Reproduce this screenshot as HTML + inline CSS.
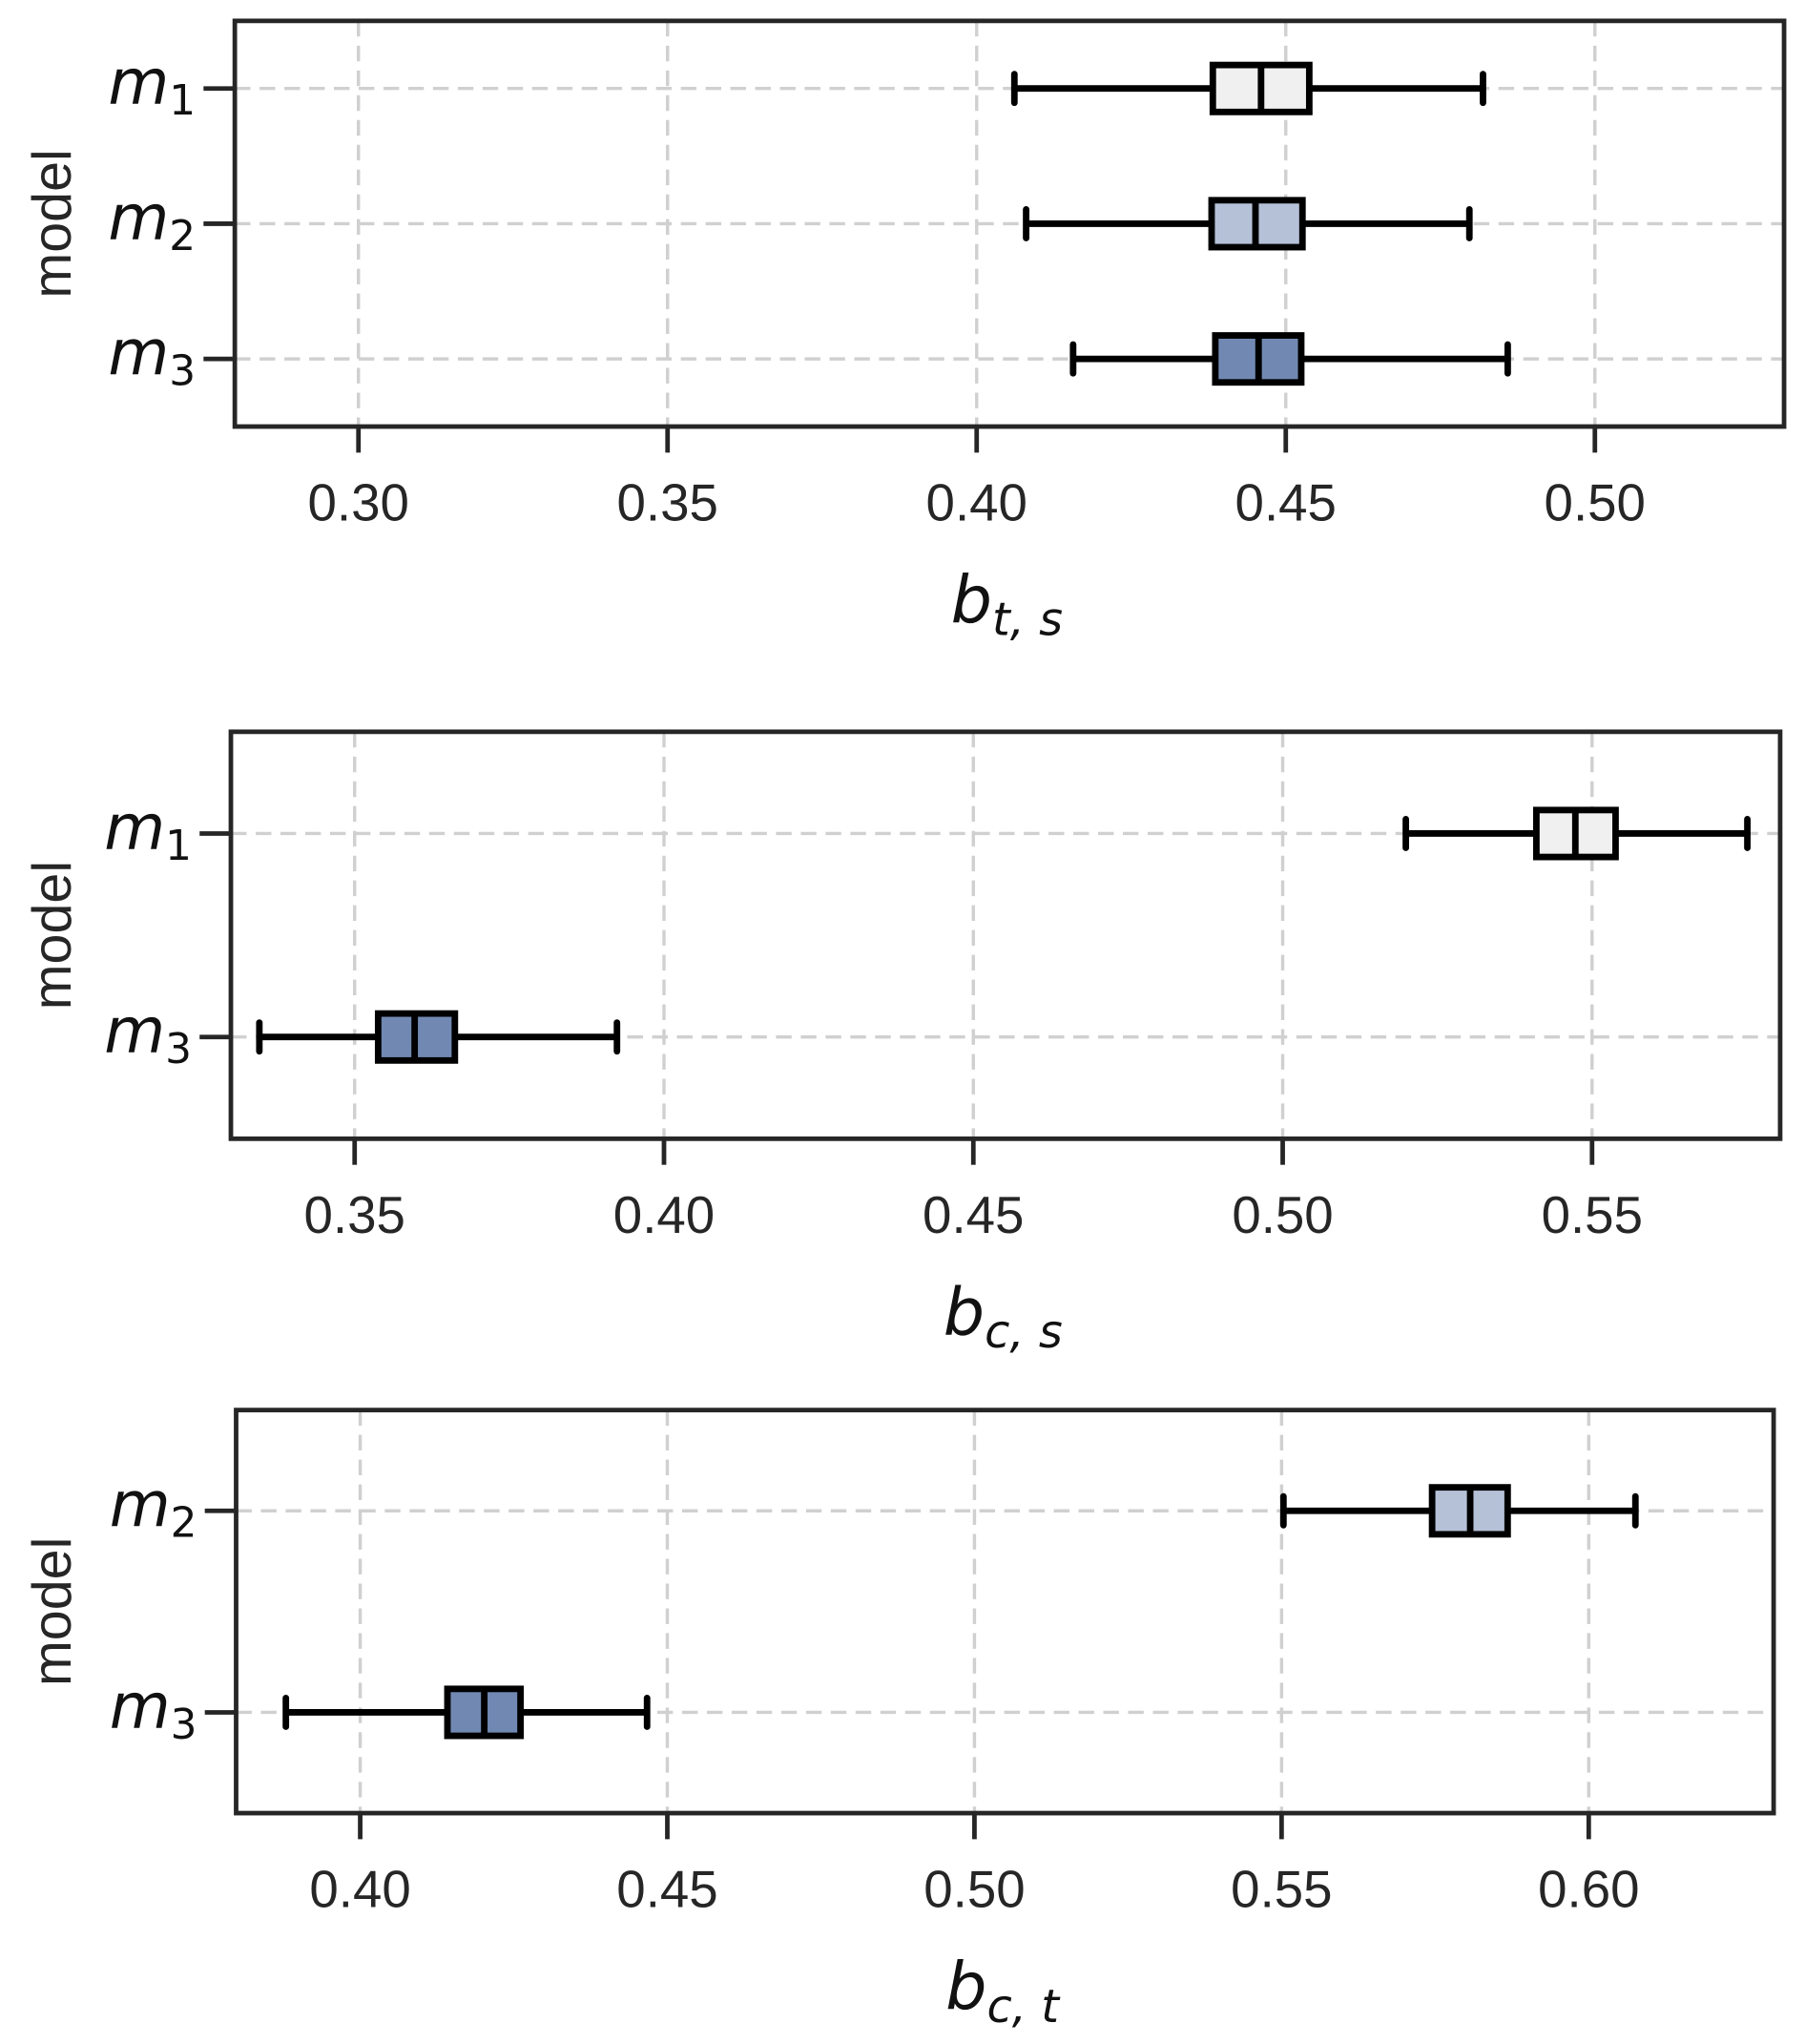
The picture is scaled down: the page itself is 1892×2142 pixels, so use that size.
<!DOCTYPE html>
<html><head><meta charset="utf-8"><style>
html,body{margin:0;padding:0;background:#fff;}
svg{display:block;}
text{font-family:"Liberation Sans","DejaVu Sans",sans-serif;fill:#262626;}
.it{font-family:"DejaVu Sans","Liberation Sans",sans-serif;font-style:italic;fill:#111;}
</style></head><body>
<svg id="fig" width="1892" height="2142" viewBox="0 0 1384 1567" xmlns="http://www.w3.org/2000/svg"></svg>
<script>
// Panel 1: b_{t,s}
const p1Cats = ["1","2","3"];
const p1Lo = [0.4061, 0.4080, 0.4156];
const p1Q1 = [0.4382, 0.4380, 0.4386];
const p1Med = [0.4460, 0.4451, 0.4456];
const p1Q3 = [0.4538, 0.4527, 0.4525];
const p1Hi = [0.4819, 0.4797, 0.4859];
const p1Ticks = [0.30, 0.35, 0.40, 0.45, 0.50];
const p1Fill = ["#f0f0f0", "#b5c1d7", "#7189b2"];
// Panel 2: b_{c,s}
const p2Cats = ["1","3"];
const p2Lo = [0.5199, 0.3346];
const p2Q1 = [0.5410, 0.3538];
const p2Med = [0.5473, 0.3597];
const p2Q3 = [0.5538, 0.3662];
const p2Hi = [0.5751, 0.3924];
const p2Ticks = [0.35, 0.40, 0.45, 0.50, 0.55];
const p2Fill = ["#f0f0f0", "#7189b2"];
// Panel 3: b_{c,t}
const p3Cats = ["2","3"];
const p3Lo = [0.5503, 0.3879];
const p3Q1 = [0.5745, 0.4142];
const p3Med = [0.5807, 0.4202];
const p3Q3 = [0.5868, 0.4261];
const p3Hi = [0.6076, 0.4467];
const p3Ticks = [0.40, 0.45, 0.50, 0.55, 0.60];
const p3Fill = ["#b5c1d7", "#7189b2"];

const NS="http://www.w3.org/2000/svg";
const svg=document.getElementById('fig');
function mk(tag,attrs,parent){const e=document.createElementNS(NS,tag);for(const k in attrs)e.setAttribute(k,attrs[k]);(parent||svg).appendChild(e);return e;}

function panel(id,box,xdom,cats,lo,q1,med,q3,hi,ticks,fills,sub){
  const g=mk('g',{});
  
  
  const [L,T,R,B]=box;
  const xs=v=>L+(v-xdom[0])/(xdom[1]-xdom[0])*(R-L);
  const n=cats.length;
  const ys=i=>T+(i+0.5)/n*(B-T);
  ticks.forEach(t=>{
    const l=mk('line',{x1:xs(t),x2:xs(t),y1:T,y2:B,stroke:'#d0d0d0','stroke-width':2.5,'stroke-dasharray':'12,7'},g);
    
    
  });
  cats.forEach((c,i)=>{
    const l=mk('line',{x1:L,x2:R,y1:ys(i),y2:ys(i),stroke:'#d0d0d0','stroke-width':2.5,'stroke-dasharray':'12,7'},g);
    
    
  });
  cats.forEach((c,i)=>{
    const y=ys(i), h=36;
    const bg=mk('g',{},g);
    
    
    mk('line',{x1:xs(lo[i]),x2:xs(q1[i]),y1:y,y2:y,stroke:'#000','stroke-width':5},bg);
    mk('line',{x1:xs(q3[i]),x2:xs(hi[i]),y1:y,y2:y,stroke:'#000','stroke-width':5},bg);
    mk('line',{x1:xs(lo[i]),x2:xs(lo[i]),y1:y-11,y2:y+11,stroke:'#000','stroke-width':5,'stroke-linecap':'round'},bg);
    mk('line',{x1:xs(hi[i]),x2:xs(hi[i]),y1:y-11,y2:y+11,stroke:'#000','stroke-width':5,'stroke-linecap':'round'},bg);
    mk('rect',{x:xs(q1[i]),y:y-h/2,width:xs(q3[i])-xs(q1[i]),height:h,fill:fills[i],stroke:'#000','stroke-width':5},bg);
    mk('line',{x1:xs(med[i]),x2:xs(med[i]),y1:y-h/2,y2:y+h/2,stroke:'#000','stroke-width':5},bg);
    mk('line',{x1:L-24,x2:L,y1:y,y2:y,stroke:'#262626','stroke-width':3.5},g);
    const t=mk('text',{x:L-30,y:y+12,'text-anchor':'end','font-size':48,class:'it'},g);
    
    
    t.innerHTML='m<tspan font-size="32" dy="8" font-style="normal">'+c+'</tspan>';
  });
  const f=mk('rect',{x:L,y:T,width:R-L,height:B-T,fill:'none',stroke:'#262626','stroke-width':3.5},g);
  
  
  ticks.forEach(t=>{
    mk('line',{x1:xs(t),x2:xs(t),y1:B,y2:B+20,stroke:'#262626','stroke-width':3.5},g);
    const tx=mk('text',{x:xs(t),y:B+72,'text-anchor':'middle','font-size':40},g);
    
    
    tx.textContent=t.toFixed(2);
  });
  const yt=mk('text',{x:0,y:0,'text-anchor':'middle','font-size':42,transform:`translate(54,${(T+B)/2}) rotate(-90)`},g);
  
  
  yt.textContent='model';
  const xt=mk('text',{x:(L+R)/2-2,y:B+150,'text-anchor':'middle','font-size':50,class:'it'},g);
  
  
  xt.innerHTML='b<tspan font-size="35" dy="10">'+sub+'</tspan>';
}
panel('bts',[180,16,1368,327],[0.28,0.5306],p1Cats,p1Lo,p1Q1,p1Med,p1Q3,p1Hi,p1Ticks,p1Fill,'t, s');
panel('bcs',[177,561,1365,873],[0.33,0.5804],p2Cats,p2Lo,p2Q1,p2Med,p2Q3,p2Hi,p2Ticks,p2Fill,'c, s');
panel('bct',[181,1081,1360,1390],[0.3798,0.6301],p3Cats,p3Lo,p3Q1,p3Med,p3Q3,p3Hi,p3Ticks,p3Fill,'c, t');
</script>
</body></html>
